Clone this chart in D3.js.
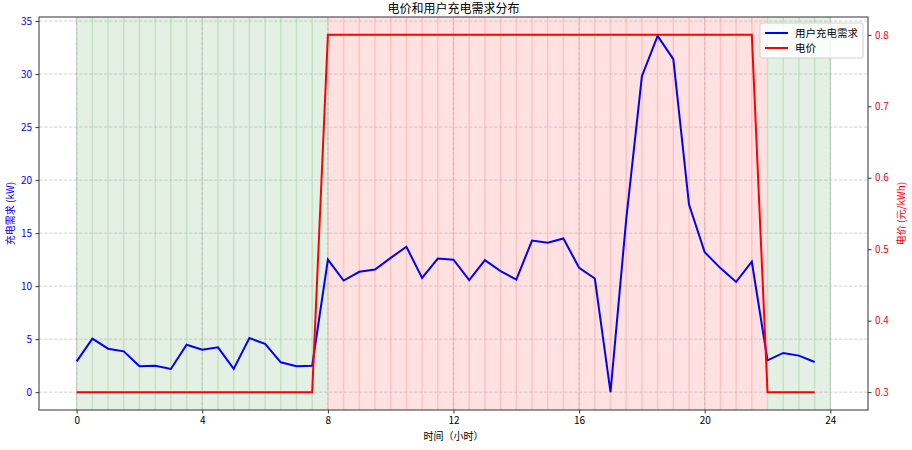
<!DOCTYPE html>
<html>
<head>
<meta charset="utf-8">
<script src="https://cdn.jsdelivr.net/npm/d3@7"></script>
<style>
  body { margin: 0; background: #fff; }
  svg { font-family: "Noto Sans CJK SC", "DejaVu Sans", sans-serif; }
</style>
</head>
<body>
<svg id="chart" width="912" height="450"></svg>
<script>
// time of day, half-hour steps
var hours = [0, 0.5, 1, 1.5, 2, 2.5, 3, 3.5, 4, 4.5, 5, 5.5, 6, 6.5, 7, 7.5,
             8, 8.5, 9, 9.5, 10, 10.5, 11, 11.5, 12, 12.5, 13, 13.5, 14, 14.5, 15, 15.5,
             16, 16.5, 17, 17.5, 18, 18.5, 19, 19.5, 20, 20.5, 21, 21.5, 22, 22.5, 23, 23.5];

// user charging demand (kW)
var demand = [2.9, 5.05, 4.1, 3.85, 2.44, 2.5, 2.19, 4.48, 4.01, 4.23, 2.19, 5.1, 4.55, 2.82, 2.44, 2.5,
              12.5, 10.53, 11.35, 11.57, 12.67, 13.71, 10.78, 12.6, 12.5, 10.56, 12.45, 11.41, 10.62, 14.3, 14.09, 14.5,
              11.73, 10.72, 0.0, 16.3, 29.8, 33.6, 31.4, 17.7, 13.2, 11.7, 10.4, 12.3, 3.0, 3.7, 3.45, 2.85];

// electricity price (yuan/kWh)
var price = [0.3, 0.3, 0.3, 0.3, 0.3, 0.3, 0.3, 0.3, 0.3, 0.3, 0.3, 0.3, 0.3, 0.3, 0.3, 0.3,
             0.8, 0.8, 0.8, 0.8, 0.8, 0.8, 0.8, 0.8, 0.8, 0.8, 0.8, 0.8, 0.8, 0.8, 0.8, 0.8,
             0.8, 0.8, 0.8, 0.8, 0.8, 0.8, 0.8, 0.8, 0.8, 0.8, 0.8, 0.8, 0.3, 0.3, 0.3, 0.3];

// price periods (shaded background)
var periodStart = [0, 8, 22];
var periodEnd = [8, 22, 24];
var periodType = ["valley", "peak", "valley"];

var xTicks = [0, 4, 8, 12, 16, 20, 24];
var yTicks = [0, 5, 10, 15, 20, 25, 30, 35];
var priceTicks = [0.3, 0.4, 0.5, 0.6, 0.7, 0.8];

var W = 912, H = 450;
var margin = {top: 17, left: 39, right: 44, bottom: 40};
var innerW = W - margin.left - margin.right;
var innerH = H - margin.top - margin.bottom;

var svg = d3.select("#chart");
var g = svg.append("g").attr("transform", "translate(" + margin.left + "," + margin.top + ")");

// matplotlib-like 5% margins
var xPad = 24 * 0.05;
var x = d3.scaleLinear().domain([0 - xPad, 24 + xPad]).range([0, innerW]);
var dMax = d3.max(demand), dMin = d3.min(demand);
var dPad = (dMax - dMin) * 0.05;
var y = d3.scaleLinear().domain([dMin - dPad, dMax + dPad + 0.1]).range([innerH, 0]);
var pPad = (0.8 - 0.3) * 0.05;
var yP = d3.scaleLinear().domain([0.3 - pPad, 0.8 + pPad]).range([innerH, 0]);

var fills = {valley: "#e3f0e3", peak: "#ffe1e1"};
var edges = {valley: "#c5e2c5", peak: "#ffc3c3"};

// half-hour spans
var spans = [];
periodStart.forEach(function(s, i) {
    for (var t = s; t < periodEnd[i]; t += 0.5) {
        spans.push({a: t, b: t + 0.5, type: periodType[i]});
    }
});

g.selectAll("rect.span")
    .data(spans).enter().append("rect")
    .attr("class", "span")
    .attr("x", function(d) { return x(d.a); })
    .attr("width", function(d) { return x(d.b) - x(d.a); })
    .attr("y", 0)
    .attr("height", innerH)
    .attr("fill", function(d) { return fills[d.type]; });

g.selectAll("line.edge")
    .data(spans).enter().append("line")
    .attr("class", "edge")
    .attr("x1", function(d) { return x(d.a); })
    .attr("x2", function(d) { return x(d.a); })
    .attr("y1", 0).attr("y2", innerH)
    .attr("stroke", function(d) { return edges[d.type]; })
    .attr("stroke-width", 1.5);

g.append("line")
    .attr("x1", x(24)).attr("x2", x(24))
    .attr("y1", 0).attr("y2", innerH)
    .attr("stroke", edges.valley).attr("stroke-width", 1.5);

// grid
g.selectAll("line.gx")
    .data(xTicks).enter().append("line")
    .attr("x1", function(d) { return x(d); })
    .attr("x2", function(d) { return x(d); })
    .attr("y1", 0).attr("y2", innerH)
    .attr("stroke", "#b0b0b0").attr("stroke-opacity", 0.7)
    .attr("stroke-dasharray", "3.5,1.5").attr("stroke-width", 0.8);

g.selectAll("line.gy")
    .data(yTicks).enter().append("line")
    .attr("x1", 0).attr("x2", innerW)
    .attr("y1", function(d) { return y(d); })
    .attr("y2", function(d) { return y(d); })
    .attr("stroke", "#b0b0b0").attr("stroke-opacity", 0.7)
    .attr("stroke-dasharray", "3.5,1.5").attr("stroke-width", 0.8);

// lines
var demandLine = d3.line()
    .x(function(d, i) { return x(hours[i]); })
    .y(function(d) { return y(d); });
var priceLine = d3.line()
    .x(function(d, i) { return x(hours[i]); })
    .y(function(d) { return yP(d); });

g.append("path").datum(demand)
    .attr("d", demandLine)
    .attr("fill", "none").attr("stroke", "#0000ff").attr("stroke-width", 2);

g.append("path").datum(price)
    .attr("d", priceLine)
    .attr("fill", "none").attr("stroke", "#ff0000").attr("stroke-width", 2);

// axes
var xAxis = g.append("g").attr("transform", "translate(0," + innerH + ")")
    .call(d3.axisBottom(x).tickValues(xTicks).tickSize(3.5).tickPadding(3.5));
var yAxis = g.append("g")
    .call(d3.axisLeft(y).tickValues(yTicks).tickSize(3.5).tickPadding(3.5));
var pAxis = g.append("g").attr("transform", "translate(" + innerW + ",0)")
    .call(d3.axisRight(yP).tickValues(priceTicks).tickFormat(d3.format(".1f")).tickSize(3.5).tickPadding(3.5));

[xAxis, yAxis, pAxis].forEach(function(a) {
    a.select(".domain").remove();
    a.selectAll(".tick line").attr("stroke", "#333");
    a.selectAll("text").attr("font-size", 10).attr("font-family", "'Noto Sans CJK SC', sans-serif");
});
xAxis.selectAll("text").attr("fill", "#000");
yAxis.selectAll("text").attr("fill", "#0000ff");
pAxis.selectAll("text").attr("fill", "#ff0000");

// frame
g.append("rect")
    .attr("width", innerW).attr("height", innerH)
    .attr("fill", "none").attr("stroke", "#333").attr("stroke-width", 1);

// titles
svg.append("text")
    .attr("x", margin.left + innerW / 2).attr("y", 13)
    .attr("text-anchor", "middle").attr("font-size", 12)
    .text("电价和用户充电需求分布");

svg.append("text")
    .attr("x", margin.left + innerW / 2).attr("y", 440)
    .attr("text-anchor", "middle").attr("font-size", 10)
    .text("时间（小时）");

svg.append("text")
    .attr("transform", "translate(14," + (margin.top + innerH / 2) + ") rotate(-90)")
    .attr("text-anchor", "middle").attr("font-size", 10).attr("fill", "#0000ff")
    .text("充电需求 (kW)");

svg.append("text")
    .attr("transform", "translate(905," + (margin.top + innerH / 2) + ") rotate(-90)")
    .attr("text-anchor", "middle").attr("font-size", 10).attr("fill", "#ff0000")
    .text("电价 (元/kWh)");

// legend
var legItems = [{label: "用户充电需求", color: "#0000ff"}, {label: "电价", color: "#ff0000"}];
var leg = svg.append("g").attr("transform", "translate(760,23)");
leg.append("rect")
    .attr("width", 103).attr("height", 35).attr("rx", 2)
    .attr("fill", "#fff").attr("fill-opacity", 0.8)
    .attr("stroke", "#d0d0d0");
leg.selectAll("g.item")
    .data(legItems).enter().append("g")
    .attr("transform", function(d, i) { return "translate(5," + (10 + i * 15) + ")"; })
    .each(function(d) {
        var it = d3.select(this);
        it.append("line").attr("x1", 0).attr("x2", 23).attr("y1", 0).attr("y2", 0)
            .attr("stroke", d.color).attr("stroke-width", 2);
        it.append("text").attr("x", 30).attr("y", 4).attr("font-size", 10.5).text(d.label);
    });
</script>
</body>
</html>
